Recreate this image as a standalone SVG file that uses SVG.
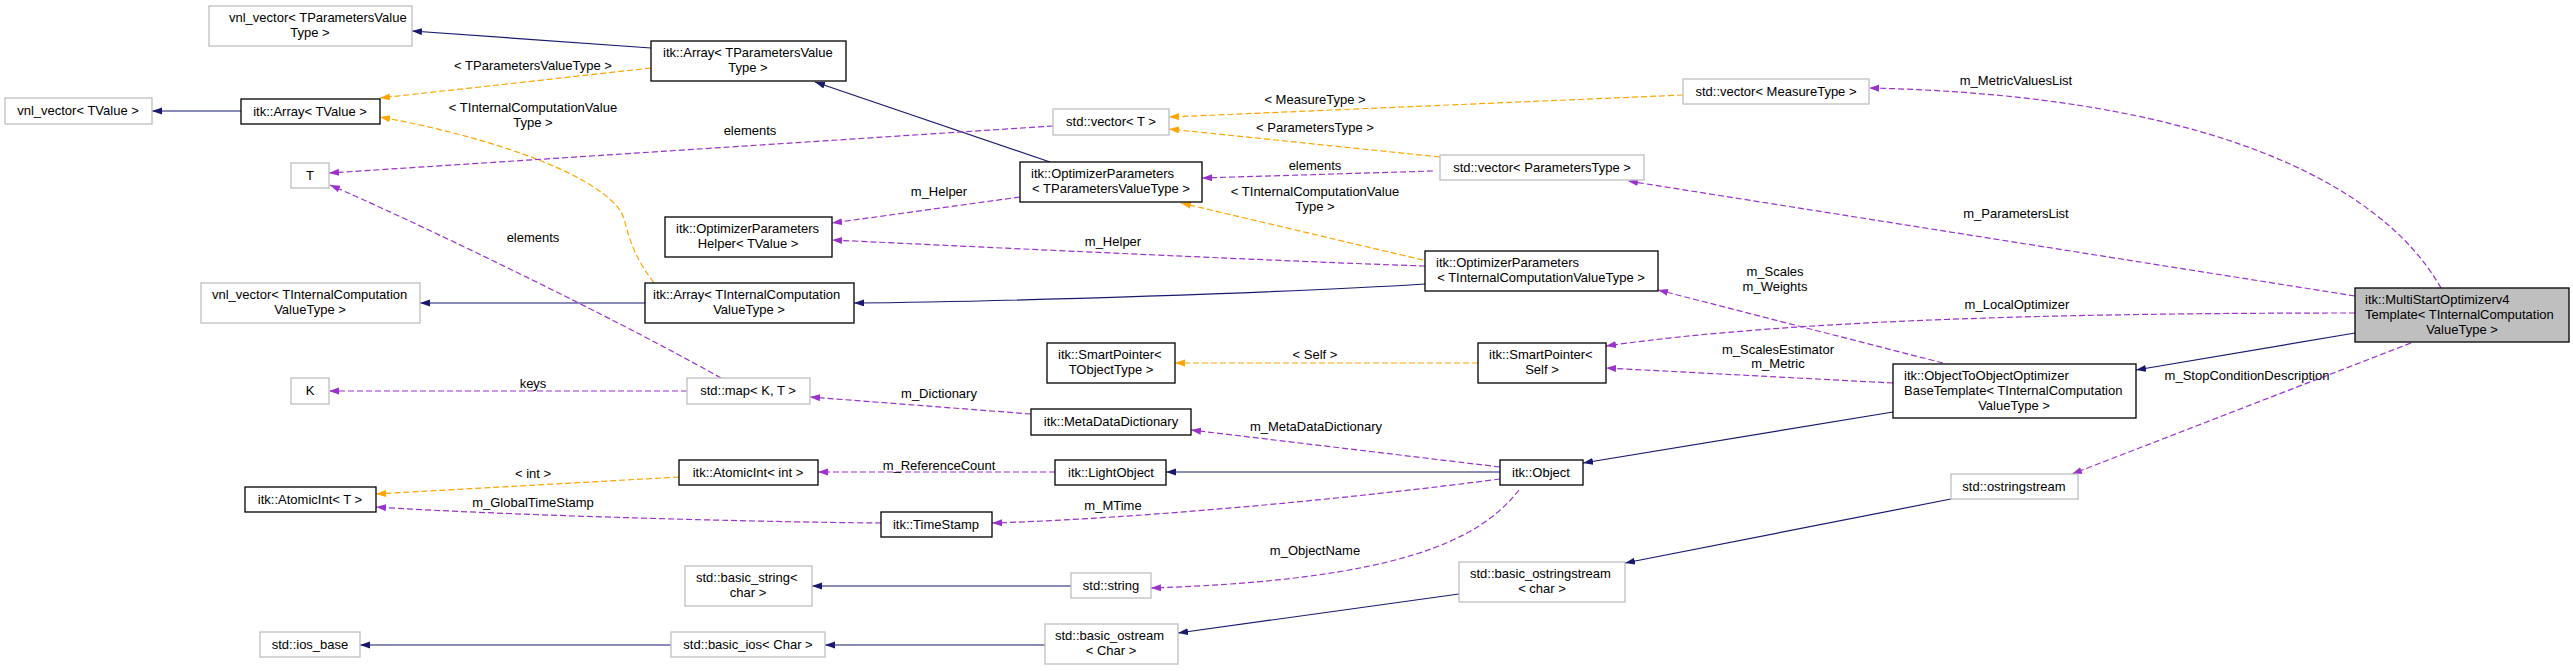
<svg xmlns="http://www.w3.org/2000/svg" width="2573" height="671" viewBox="0 0 2573 671">
<style>
text{font-family:"Liberation Sans",Arial,sans-serif;font-size:13px;fill:#000}
.c{text-anchor:middle}
.nb{fill:#fff;stroke:#000;stroke-width:1.3}
.ng{fill:#fff;stroke:#bfbfbf;stroke-width:1.3}
.nm{fill:#bfbfbf;stroke:#000;stroke-width:1.3}
.b{fill:none;stroke:#191970;stroke-width:1.2;marker-end:url(#ab)}
.o{fill:none;stroke:#ffa500;stroke-width:1.2;stroke-dasharray:6,3;marker-end:url(#ao)}
.p{fill:none;stroke:#9a32cd;stroke-width:1.2;stroke-dasharray:6,3;marker-end:url(#ap)}
</style>
<defs>
<marker id="ab" markerUnits="userSpaceOnUse" markerWidth="11" markerHeight="8" refX="10" refY="3.5" orient="auto"><path d="M0,0L10,3.5L0,7z" fill="#191970"/></marker>
<marker id="ao" markerUnits="userSpaceOnUse" markerWidth="11" markerHeight="8" refX="10" refY="3.5" orient="auto"><path d="M0,0L10,3.5L0,7z" fill="#ffa500"/></marker>
<marker id="ap" markerUnits="userSpaceOnUse" markerWidth="11" markerHeight="8" refX="10" refY="3.5" orient="auto"><path d="M0,0L10,3.5L0,7z" fill="#9a32cd"/></marker>
</defs>
<rect width="2573" height="671" fill="#fff"/>
<g id="connectors">
<path class="b" d="M241,111L152,111"/>
<path class="b" d="M651,48L412,31"/>
<path class="b" d="M645,303L420,303"/>
<path class="b" d="M1050,162L815,82"/>
<path class="b" d="M1425,284C1300,292 1000,302 854,303"/>
<path class="b" d="M1500,472L1166,472"/>
<path class="b" d="M1893,412L1583,463"/>
<path class="b" d="M2355,333L2136,370"/>
<path class="b" d="M1071,586L812,586"/>
<path class="b" d="M1045,645L825,645"/>
<path class="b" d="M671,645L360,645"/>
<path class="b" d="M1459,594L1178,633"/>
<path class="b" d="M1951,499L1625,563"/>
<path class="o" d="M651,68L380,98"/>
<path class="o" d="M654,283C625,245 628,222 620,210C590,170 480,135 380,117"/>
<path class="o" d="M1683,95L1169,117"/>
<path class="o" d="M1440,157L1169,129"/>
<path class="o" d="M1423,260L1181,203"/>
<path class="o" d="M1478,363L1175,363"/>
<path class="o" d="M679,477L376,494"/>
<path class="p" d="M1053,126L329,173"/>
<path class="p" d="M721,378C600,310 400,215 330,185"/>
<path class="p" d="M687,391L329,391"/>
<path class="p" d="M1020,197L832,223"/>
<path class="p" d="M1425,266C1300,262 1000,248 832,240"/>
<path class="p" d="M1433,171L1202,178"/>
<path class="p" d="M2441,288C2380,180 2200,95 1869,88"/>
<path class="p" d="M2355,296L1628,181"/>
<path class="p" d="M2355,313C2100,313 1800,318 1606,346"/>
<path class="p" d="M1943,363L1658,290"/>
<path class="p" d="M1893,383L1606,368"/>
<path class="p" d="M1500,467L1191,430"/>
<path class="p" d="M1031,414L810,397"/>
<path class="p" d="M1055,472L818,472"/>
<path class="p" d="M1500,479C1300,505 1100,520 992,523"/>
<path class="p" d="M881,523C750,522 500,515 376,507"/>
<path class="p" d="M1519,490C1480,540 1400,580 1151,588"/>
<path class="p" d="M2411,343L2072,474"/>
<text class="c" x="533" y="70">&lt; TParametersValueType &gt;</text>
<text class="c" x="533" y="112">&lt; TInternalComputationValue</text>
<text class="c" x="533" y="127">Type &gt;</text>
<text class="c" x="750" y="135">elements</text>
<text class="c" x="533" y="242">elements</text>
<text class="c" x="533" y="388">keys</text>
<text class="c" x="533" y="478">&lt; int &gt;</text>
<text class="c" x="533" y="507">m_GlobalTimeStamp</text>
<text class="c" x="939" y="196">m_Helper</text>
<text class="c" x="1113" y="246">m_Helper</text>
<text class="c" x="1315" y="104">&lt; MeasureType &gt;</text>
<text class="c" x="1315" y="132">&lt; ParametersType &gt;</text>
<text class="c" x="1315" y="170">elements</text>
<text class="c" x="1315" y="196">&lt; TInternalComputationValue</text>
<text class="c" x="1315" y="211">Type &gt;</text>
<text class="c" x="1315" y="359">&lt; Self &gt;</text>
<text class="c" x="939" y="398">m_Dictionary</text>
<text class="c" x="1316" y="431">m_MetaDataDictionary</text>
<text class="c" x="939" y="470">m_ReferenceCount</text>
<text class="c" x="1113" y="510">m_MTime</text>
<text class="c" x="1315" y="555">m_ObjectName</text>
<text class="c" x="1775" y="276">m_Scales</text>
<text class="c" x="1775" y="291">m_Weights</text>
<text class="c" x="1778" y="354">m_ScalesEstimator</text>
<text class="c" x="1778" y="368">m_Metric</text>
<text class="c" x="2016" y="85">m_MetricValuesList</text>
<text class="c" x="2016" y="218">m_ParametersList</text>
<text class="c" x="2017" y="309">m_LocalOptimizer</text>
<text class="c" x="2247" y="380">m_StopConditionDescription</text>
</g>
<g id="vnl_TParam"><rect class="ng" x="209" y="6" width="203" height="40"/><text x="229" y="22">vnl_vector&lt; TParametersValue</text><text class="c" x="310" y="37">Type &gt;</text></g>
<g id="ArrTValue"><rect class="nb" x="241" y="99" width="139" height="25"/><text class="c" x="310" y="116">itk::Array&lt; TValue &gt;</text></g>
<g id="vnl_TValue"><rect class="ng" x="5" y="98" width="147" height="26"/><text class="c" x="78" y="115">vnl_vector&lt; TValue &gt;</text></g>
<g id="T"><rect class="ng" x="291" y="163" width="38" height="25"/><text class="c" x="310" y="180">T</text></g>
<g id="vnl_TInternal"><rect class="ng" x="201" y="283" width="219" height="40"/><text x="212" y="299">vnl_vector&lt; TInternalComputation</text><text class="c" x="310" y="314">ValueType &gt;</text></g>
<g id="K"><rect class="ng" x="291" y="378" width="38" height="26"/><text class="c" x="310" y="395">K</text></g>
<g id="AtomicIntT"><rect class="nb" x="245" y="487" width="131" height="25"/><text class="c" x="310" y="504">itk::AtomicInt&lt; T &gt;</text></g>
<g id="ios_base"><rect class="ng" x="260" y="632" width="100" height="25"/><text class="c" x="310" y="649">std::ios_base</text></g>
<g id="ArrTParam"><rect class="nb" x="651" y="41" width="195" height="40"/><text x="663" y="57">itk::Array&lt; TParametersValue</text><text class="c" x="748" y="72">Type &gt;</text></g>
<g id="Helper"><rect class="nb" x="665" y="217" width="167" height="40"/><text x="676" y="233">itk::OptimizerParameters</text><text class="c" x="748" y="248">Helper&lt; TValue &gt;</text></g>
<g id="ArrTInternal"><rect class="nb" x="645" y="283" width="209" height="40"/><text x="653" y="299">itk::Array&lt; TInternalComputation</text><text class="c" x="749" y="314">ValueType &gt;</text></g>
<g id="map"><rect class="ng" x="687" y="378" width="123" height="26"/><text class="c" x="748" y="395">std::map&lt; K, T &gt;</text></g>
<g id="AtomicIntInt"><rect class="nb" x="679" y="460" width="139" height="25"/><text class="c" x="748" y="477">itk::AtomicInt&lt; int &gt;</text></g>
<g id="basic_string"><rect class="ng" x="685" y="566" width="127" height="40"/><text x="696" y="582">std::basic_string&lt;</text><text class="c" x="748" y="597">char &gt;</text></g>
<g id="basic_ios"><rect class="ng" x="671" y="632" width="154" height="25"/><text class="c" x="748" y="649">std::basic_ios&lt; Char &gt;</text></g>
<g id="vectorT"><rect class="ng" x="1053" y="109" width="116" height="26"/><text class="c" x="1111" y="126">std::vector&lt; T &gt;</text></g>
<g id="OptParamsTParam"><rect class="nb" x="1020" y="162" width="182" height="40"/><text x="1031" y="178">itk::OptimizerParameters</text><text class="c" x="1111" y="193">&lt; TParametersValueType &gt;</text></g>
<g id="SmartPtrTObj"><rect class="nb" x="1047" y="343" width="128" height="40"/><text x="1058" y="359">itk::SmartPointer&lt;</text><text class="c" x="1111" y="374">TObjectType &gt;</text></g>
<g id="MetaDataDictionary"><rect class="nb" x="1031" y="409" width="160" height="26"/><text class="c" x="1111" y="426">itk::MetaDataDictionary</text></g>
<g id="LightObject"><rect class="nb" x="1055" y="460" width="111" height="25"/><text class="c" x="1111" y="477">itk::LightObject</text></g>
<g id="TimeStamp"><rect class="nb" x="881" y="512" width="111" height="25"/><text class="c" x="936" y="529">itk::TimeStamp</text></g>
<g id="string"><rect class="ng" x="1071" y="573" width="80" height="25"/><text class="c" x="1111" y="590">std::string</text></g>
<g id="basic_ostream"><rect class="ng" x="1045" y="624" width="133" height="40"/><text x="1055" y="640">std::basic_ostream</text><text class="c" x="1111" y="655">&lt; Char &gt;</text></g>
<g id="vectorParams"><rect class="ng" x="1440" y="155" width="204" height="25"/><text class="c" x="1542" y="172">std::vector&lt; ParametersType &gt;</text></g>
<g id="OptParamsTInternal"><rect class="nb" x="1425" y="251" width="233" height="40"/><text x="1436" y="267">itk::OptimizerParameters</text><text class="c" x="1541" y="282">&lt; TInternalComputationValueType &gt;</text></g>
<g id="SmartPtrSelf"><rect class="nb" x="1478" y="343" width="128" height="40"/><text x="1489" y="359">itk::SmartPointer&lt;</text><text class="c" x="1542" y="374">Self &gt;</text></g>
<g id="Object"><rect class="nb" x="1500" y="460" width="83" height="25"/><text class="c" x="1541" y="477">itk::Object</text></g>
<g id="basic_ostringstream"><rect class="ng" x="1459" y="562" width="166" height="40"/><text x="1470" y="578">std::basic_ostringstream</text><text class="c" x="1542" y="593">&lt; char &gt;</text></g>
<g id="vectorMeasure"><rect class="ng" x="1683" y="79" width="186" height="25"/><text class="c" x="1776" y="96">std::vector&lt; MeasureType &gt;</text></g>
<g id="ObjToObj"><rect class="nb" x="1893" y="364" width="243" height="54"/><text x="1904" y="380">itk::ObjectToObjectOptimizer</text><text x="1904" y="395">BaseTemplate&lt; TInternalComputation</text><text class="c" x="2014" y="410">ValueType &gt;</text></g>
<g id="ostringstream"><rect class="ng" x="1951" y="474" width="127" height="25"/><text class="c" x="2014" y="491">std::ostringstream</text></g>
<g id="MultiStart"><rect class="nm" x="2355" y="288" width="214" height="54"/><text x="2365" y="304">itk::MultiStartOptimizerv4</text><text x="2365" y="319">Template&lt; TInternalComputation</text><text class="c" x="2462" y="334">ValueType &gt;</text></g>
</svg>
